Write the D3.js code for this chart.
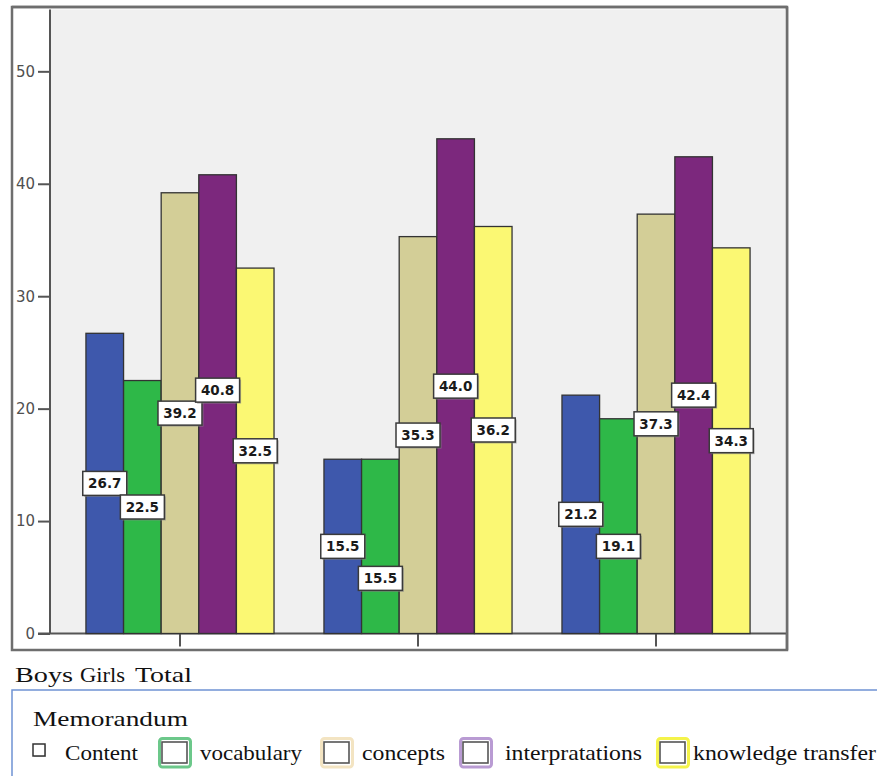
<!DOCTYPE html>
<html>
<head>
<meta charset="utf-8">
<script src="https://cdn.jsdelivr.net/npm/d3@7/dist/d3.min.js"></script>
<style>
  html, body { margin: 0; padding: 0; background: #fff; }
  svg { display: block; }
</style>
</head>
<body>
<svg id="chart" width="877" height="776"></svg>
<script>
// ---- data ----
const categories = ["Boys", "Girls", "Total"];
const seriesNames = ["Content", "vocabulary", "concepts", "interpratations", "knowledge transfer"];
const contentValues = [26.7, 15.5, 21.2];
const vocabularyValues = [22.5, 15.5, 19.1];
const conceptsValues = [39.2, 35.3, 37.3];
const interpretationValues = [40.8, 44.0, 42.4];
const transferValues = [32.5, 36.2, 34.3];
const yTickValues = [0, 10, 20, 30, 40, 50];
const legendTitle = "Memorandum";

// ---- styles ----
const barColors = ["#3E58AC", "#2EB848", "#D3CE97", "#7C287D", "#FBF873"];
const glowColors = [null, "#6cc88a", "#f3e4c2", "#b99bd3", "#f4f34a"];

const seriesValues = [contentValues, vocabularyValues, conceptsValues, interpretationValues, transferValues];

const svg = d3.select("#chart");

// plot geometry
const plot = { left: 50, right: 786, top: 9.5, bottom: 633.5 };
const frame = { left: 12, top: 7, right: 787, bottom: 650 };

const y = d3.scaleLinear().domain([0, 55.5]).range([plot.bottom, plot.top]);
const x0 = d3.scaleBand().domain(categories)
  .range([plot.left, plot.right]).paddingInner(0.2098).paddingOuter(0.151);
const x1 = d3.scaleBand().domain(seriesNames).range([0, x0.bandwidth()]).padding(0);

// outer frame
svg.append("rect")
  .attr("x", frame.left).attr("y", frame.top)
  .attr("width", frame.right - frame.left).attr("height", frame.bottom - frame.top)
  .attr("fill", "#fff").attr("stroke", "#6e6e6e").attr("stroke-width", 2.5);

// plot background
svg.append("rect")
  .attr("x", plot.left).attr("y", plot.top)
  .attr("width", plot.right - plot.left).attr("height", plot.bottom - plot.top)
  .attr("fill", "#f0f0f0");

// y axis
const yAxis = d3.axisLeft(y).tickValues(yTickValues).tickSize(12).tickPadding(3).tickFormat(d3.format("d"));
const yg = svg.append("g").attr("transform", `translate(${plot.left},0)`).call(yAxis);
yg.select(".domain").remove();
yg.selectAll(".tick line").attr("stroke", "#555").attr("stroke-width", 2);
yg.selectAll(".tick text")
  .attr("fill", "#505050").attr("font-family", "DejaVu Sans, Verdana, sans-serif")
  .style("font-size", "15px");
svg.append("line")
  .attr("x1", plot.left).attr("x2", plot.left).attr("y1", plot.top).attr("y2", plot.bottom)
  .attr("stroke", "#555").attr("stroke-width", 2);

// x axis (ticks only, category names are listed below the frame)
const xAxis = d3.axisBottom(x0).tickSize(13).tickFormat("");
const xg = svg.append("g").attr("transform", `translate(0,${plot.bottom})`).call(xAxis);
xg.select(".domain").remove();
xg.selectAll(".tick line").attr("stroke", "#555").attr("stroke-width", 2);
svg.append("line")
  .attr("x1", plot.left - 12).attr("x2", frame.right).attr("y1", plot.bottom).attr("y2", plot.bottom)
  .attr("stroke", "#555").attr("stroke-width", 2);

// bars
const barData = [];
categories.forEach((c, ci) => {
  seriesNames.forEach((s, si) => {
    barData.push({ cat: c, series: s, si, value: seriesValues[si][ci] });
  });
});

svg.append("g").selectAll("rect").data(barData).join("rect")
  .attr("x", d => x0(d.cat) + x1(d.series))
  .attr("y", d => y(d.value))
  .attr("width", x1.bandwidth())
  .attr("height", d => y(0) - y(d.value))
  .attr("fill", d => barColors[d.si])
  .attr("stroke", "#333").attr("stroke-width", 1.3);

// right and top edges of the frame over the plot
svg.append("line")
  .attr("x1", frame.right).attr("x2", frame.right).attr("y1", frame.top).attr("y2", frame.bottom)
  .attr("stroke", "#6e6e6e").attr("stroke-width", 2.5);
svg.append("line")
  .attr("x1", frame.left).attr("x2", frame.right).attr("y1", frame.top).attr("y2", frame.top)
  .attr("stroke", "#6e6e6e").attr("stroke-width", 2.5);

// value labels: centred at half the bar height, nudged apart when neighbours collide
const boxH = 24, boxW = 44, hitH = 22, gap = 8;
const labels = barData.map(d => ({
  ...d,
  cx: x0(d.cat) + x1(d.series) + x1.bandwidth() / 2,
  cy: y(d.value / 2)
}));
for (let i = 1; i < labels.length; i++) {
  const a = labels[i - 1], b = labels[i];
  if (a.cat !== b.cat) continue;
  const dy = b.cy - a.cy;
  if (Math.abs(dy) < hitH) {
    b.cy = dy >= 0 ? a.cy + boxH + gap : a.cy - boxH + 1;
  }
}

const lg = svg.append("g").selectAll("g").data(labels).join("g")
  .attr("transform", d => `translate(${d.cx},${d.cy})`);
lg.append("rect")
  .attr("x", -boxW / 2 + 1.5).attr("y", -boxH / 2 + 1.5)
  .attr("width", boxW).attr("height", boxH)
  .attr("fill", "#8a8a8a").attr("opacity", 0.6);
lg.append("rect")
  .attr("x", -boxW / 2).attr("y", -boxH / 2)
  .attr("width", boxW).attr("height", boxH)
  .attr("fill", "#fff").attr("stroke", "#3a3a3a").attr("stroke-width", 1.5);
lg.append("text")
  .attr("text-anchor", "middle").attr("dy", "0.36em")
  .attr("font-family", "DejaVu Sans, Verdana, sans-serif").attr("font-weight", "bold")
  .attr("font-size", 13.5).attr("fill", "#1a1a1a")
  .text(d => d3.format(".1f")(d.value));

// category names under the frame
const serif = "Liberation Serif, Times New Roman, serif";
const catX = [15, 80, 135];
const catW = [58, 45, 57];
svg.append("g").selectAll("text").data(categories).join("text")
  .attr("x", (d, i) => catX[i]).attr("y", 682)
  .attr("font-family", serif).attr("font-size", 22).attr("fill", "#111")
  .attr("textLength", (d, i) => catW[i]).attr("lengthAdjust", "spacingAndGlyphs")
  .text(d => d);

// legend box
svg.append("rect")
  .attr("x", 12).attr("y", 690).attr("width", 900).attr("height", 120)
  .attr("fill", "#fff").attr("stroke", "#6f93d3").attr("stroke-width", 1.5);

svg.append("text")
  .attr("x", 33).attr("y", 726)
  .attr("font-family", serif).attr("font-size", 22).attr("fill", "#111")
  .attr("textLength", 155).attr("lengthAdjust", "spacingAndGlyphs")
  .text(legendTitle);

const legendLayout = [
  { sx: 33, tx: 65, tw: 73 },
  { sx: 158, tx: 200, tw: 102 },
  { sx: 320, tx: 362, tw: 83 },
  { sx: 459, tx: 505, tw: 137 },
  { sx: 656, tx: 693, tw: 183 }
];
const legendBaseline = 760;

seriesNames.forEach((name, i) => {
  const L = legendLayout[i];
  const g = svg.append("g");
  if (i === 0) {
    g.append("rect").attr("x", L.sx + 1).attr("y", 745).attr("width", 12).attr("height", 12)
      .attr("fill", "#999").attr("opacity", 0.5);
    g.append("rect").attr("x", L.sx).attr("y", 744).attr("width", 12).attr("height", 12)
      .attr("fill", "#fff").attr("stroke", "#333").attr("stroke-width", 1.5);
  } else {
    g.append("rect").attr("x", L.sx + 1.5).attr("y", 738.5).attr("width", 31).attr("height", 28.5)
      .attr("rx", 3).attr("fill", "none").attr("stroke", glowColors[i]).attr("stroke-width", 3);
    g.append("rect").attr("x", L.sx + 4).attr("y", 742).attr("width", 25).attr("height", 21)
      .attr("fill", "#fff").attr("stroke", "#555").attr("stroke-width", 1.6);
  }
  g.append("text")
    .attr("x", L.tx).attr("y", legendBaseline)
    .attr("font-family", serif).attr("font-size", 21).attr("fill", "#111")
    .attr("textLength", L.tw).attr("lengthAdjust", "spacingAndGlyphs")
    .text(name);
});
</script>
</body>
</html>
